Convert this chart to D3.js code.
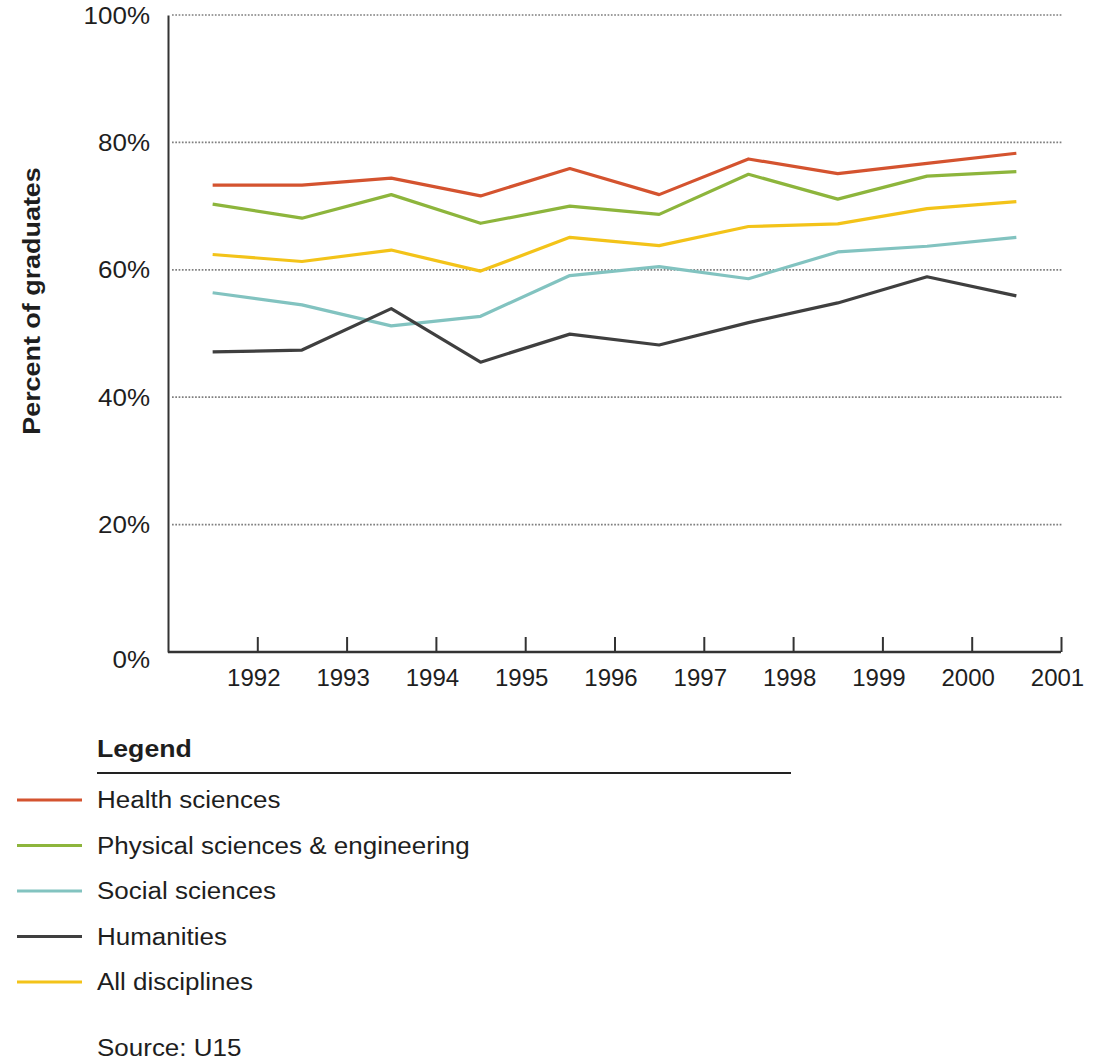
<!DOCTYPE html>
<html><head><meta charset="utf-8">
<script src="https://cdn.jsdelivr.net/npm/d3@7"></script>
<style>
body{margin:0;background:#fff;}
text{font-family:"Liberation Sans",Arial,Helvetica,sans-serif;fill:#1e1e1e;}
</style></head>
<body><svg id="c" width="1104" height="1062"></svg>
<script>
const years = [1991.5,1992.5,1993.5,1994.5,1995.5,1996.5,1997.5,1998.5,1999.5,2000.5];
const tickYears = [1992,1993,1994,1995,1996,1997,1998,1999,2000,2001];
const yTicks = [0,20,40,60,80,100];
const seriesNames = ["Health sciences","Physical sciences & engineering","Social sciences","Humanities","All disciplines"];
const seriesColors = ["#d4532f","#8db53c","#82c3c0","#3f3f3f","#f3c319"];
const health   = [73.3,73.3,74.4,71.6,75.9,71.8,77.4,75.1,76.7,78.3];
const physical = [70.3,68.1,71.8,67.3,70.0,68.7,75.0,71.1,74.7,75.4];
const social   = [56.4,54.5,51.2,52.7,59.1,60.5,58.6,62.8,63.7,65.1];
const humanities=[47.1,47.4,53.9,45.5,49.9,48.2,51.7,54.8,58.9,55.9];
const allDisc  = [62.4,61.3,63.1,59.8,65.1,63.8,66.8,67.2,69.6,70.7];
const seriesValues = [health,physical,social,humanities,allDisc];
const drawOrder = [4,2,3,1,0];
const SX = 1.13; // horizontal stretch of the reference lettering

const svg = d3.select("#c");
const x = d3.scaleLinear().domain([1991,2001]).range([168,1061]);
const y = d3.scaleLinear().domain([0,100]).range([652,15]);

// gridlines
svg.append("g").selectAll("line").data(yTicks.filter(d=>d>0)).join("line")
  .attr("x1",172).attr("x2",1063)
  .attr("y1",d=>y(d)).attr("y2",d=>y(d))
  .attr("stroke","#7f7f7f").attr("stroke-width",1.7).attr("stroke-dasharray","1.7,1.6");

// y axis
const ya = svg.append("g").attr("transform","translate(168,0)")
  .call(d3.axisLeft(y).tickValues(yTicks).tickSize(0).tickPadding(0).tickFormat(d=>d+"%"));
ya.select(".domain").attr("stroke","#333").attr("stroke-width",2);
ya.selectAll("text").attr("font-size",23).style("font-family","Liberation Sans, Arial, sans-serif")
  .attr("fill","#1e1e1e").attr("x",0).attr("dy",null)
  .attr("transform",d=>`translate(-18,${d===0?15:8}) scale(${SX},1)`);

// x axis
const xa = svg.append("g").attr("transform","translate(0,652)")
  .call(d3.axisBottom(x).tickValues(tickYears).tickSize(-15).tickPadding(12).tickFormat(d3.format("d")));
xa.select(".domain").attr("d","M168,0H1061").attr("stroke","#333").attr("stroke-width",2.5);
xa.selectAll(".tick line").attr("stroke","#333").attr("stroke-width",2);
xa.selectAll("text").attr("font-size",24).style("font-family","Liberation Sans, Arial, sans-serif").attr("fill","#1e1e1e").attr("dy","0.9em").attr("x",-4);

// y title
svg.append("text").attr("transform",`translate(40,301) rotate(-90) scale(1.17,1)`)
  .attr("text-anchor","middle").attr("font-size",23).attr("font-weight","bold").text("Percent of graduates");

// lines
const line = d3.line().x((d,i)=>x(years[i])).y(d=>y(d));
svg.append("g").selectAll("path").data(drawOrder).join("path")
  .attr("d",i=>line(seriesValues[i])).attr("fill","none")
  .attr("stroke",i=>seriesColors[i]).attr("stroke-width",3.2)
  .attr("stroke-linejoin","round").attr("stroke-linecap","butt");

// legend
svg.append("text").attr("transform",`translate(97,757) scale(1.16,1)`).attr("font-size",23).attr("font-weight","bold").text("Legend");
svg.append("line").attr("x1",97).attr("x2",791).attr("y1",773).attr("y2",773).attr("stroke","#222").attr("stroke-width",2.2);
const lg = svg.append("g").selectAll("g").data(seriesNames).join("g")
  .attr("transform",(d,i)=>`translate(0,${800+i*45.5})`);
lg.append("line").attr("x1",17).attr("x2",82).attr("stroke",(d,i)=>seriesColors[i]).attr("stroke-width",3);
lg.append("text").attr("transform",`translate(97,0) scale(${SX},1)`).attr("dy","0.35em").attr("font-size",23).text(d=>d);
svg.append("text").attr("transform",`translate(97,1048) scale(${SX},1)`).attr("dy","0.35em").attr("font-size",23).text("Source: U15");
</script></body></html>
